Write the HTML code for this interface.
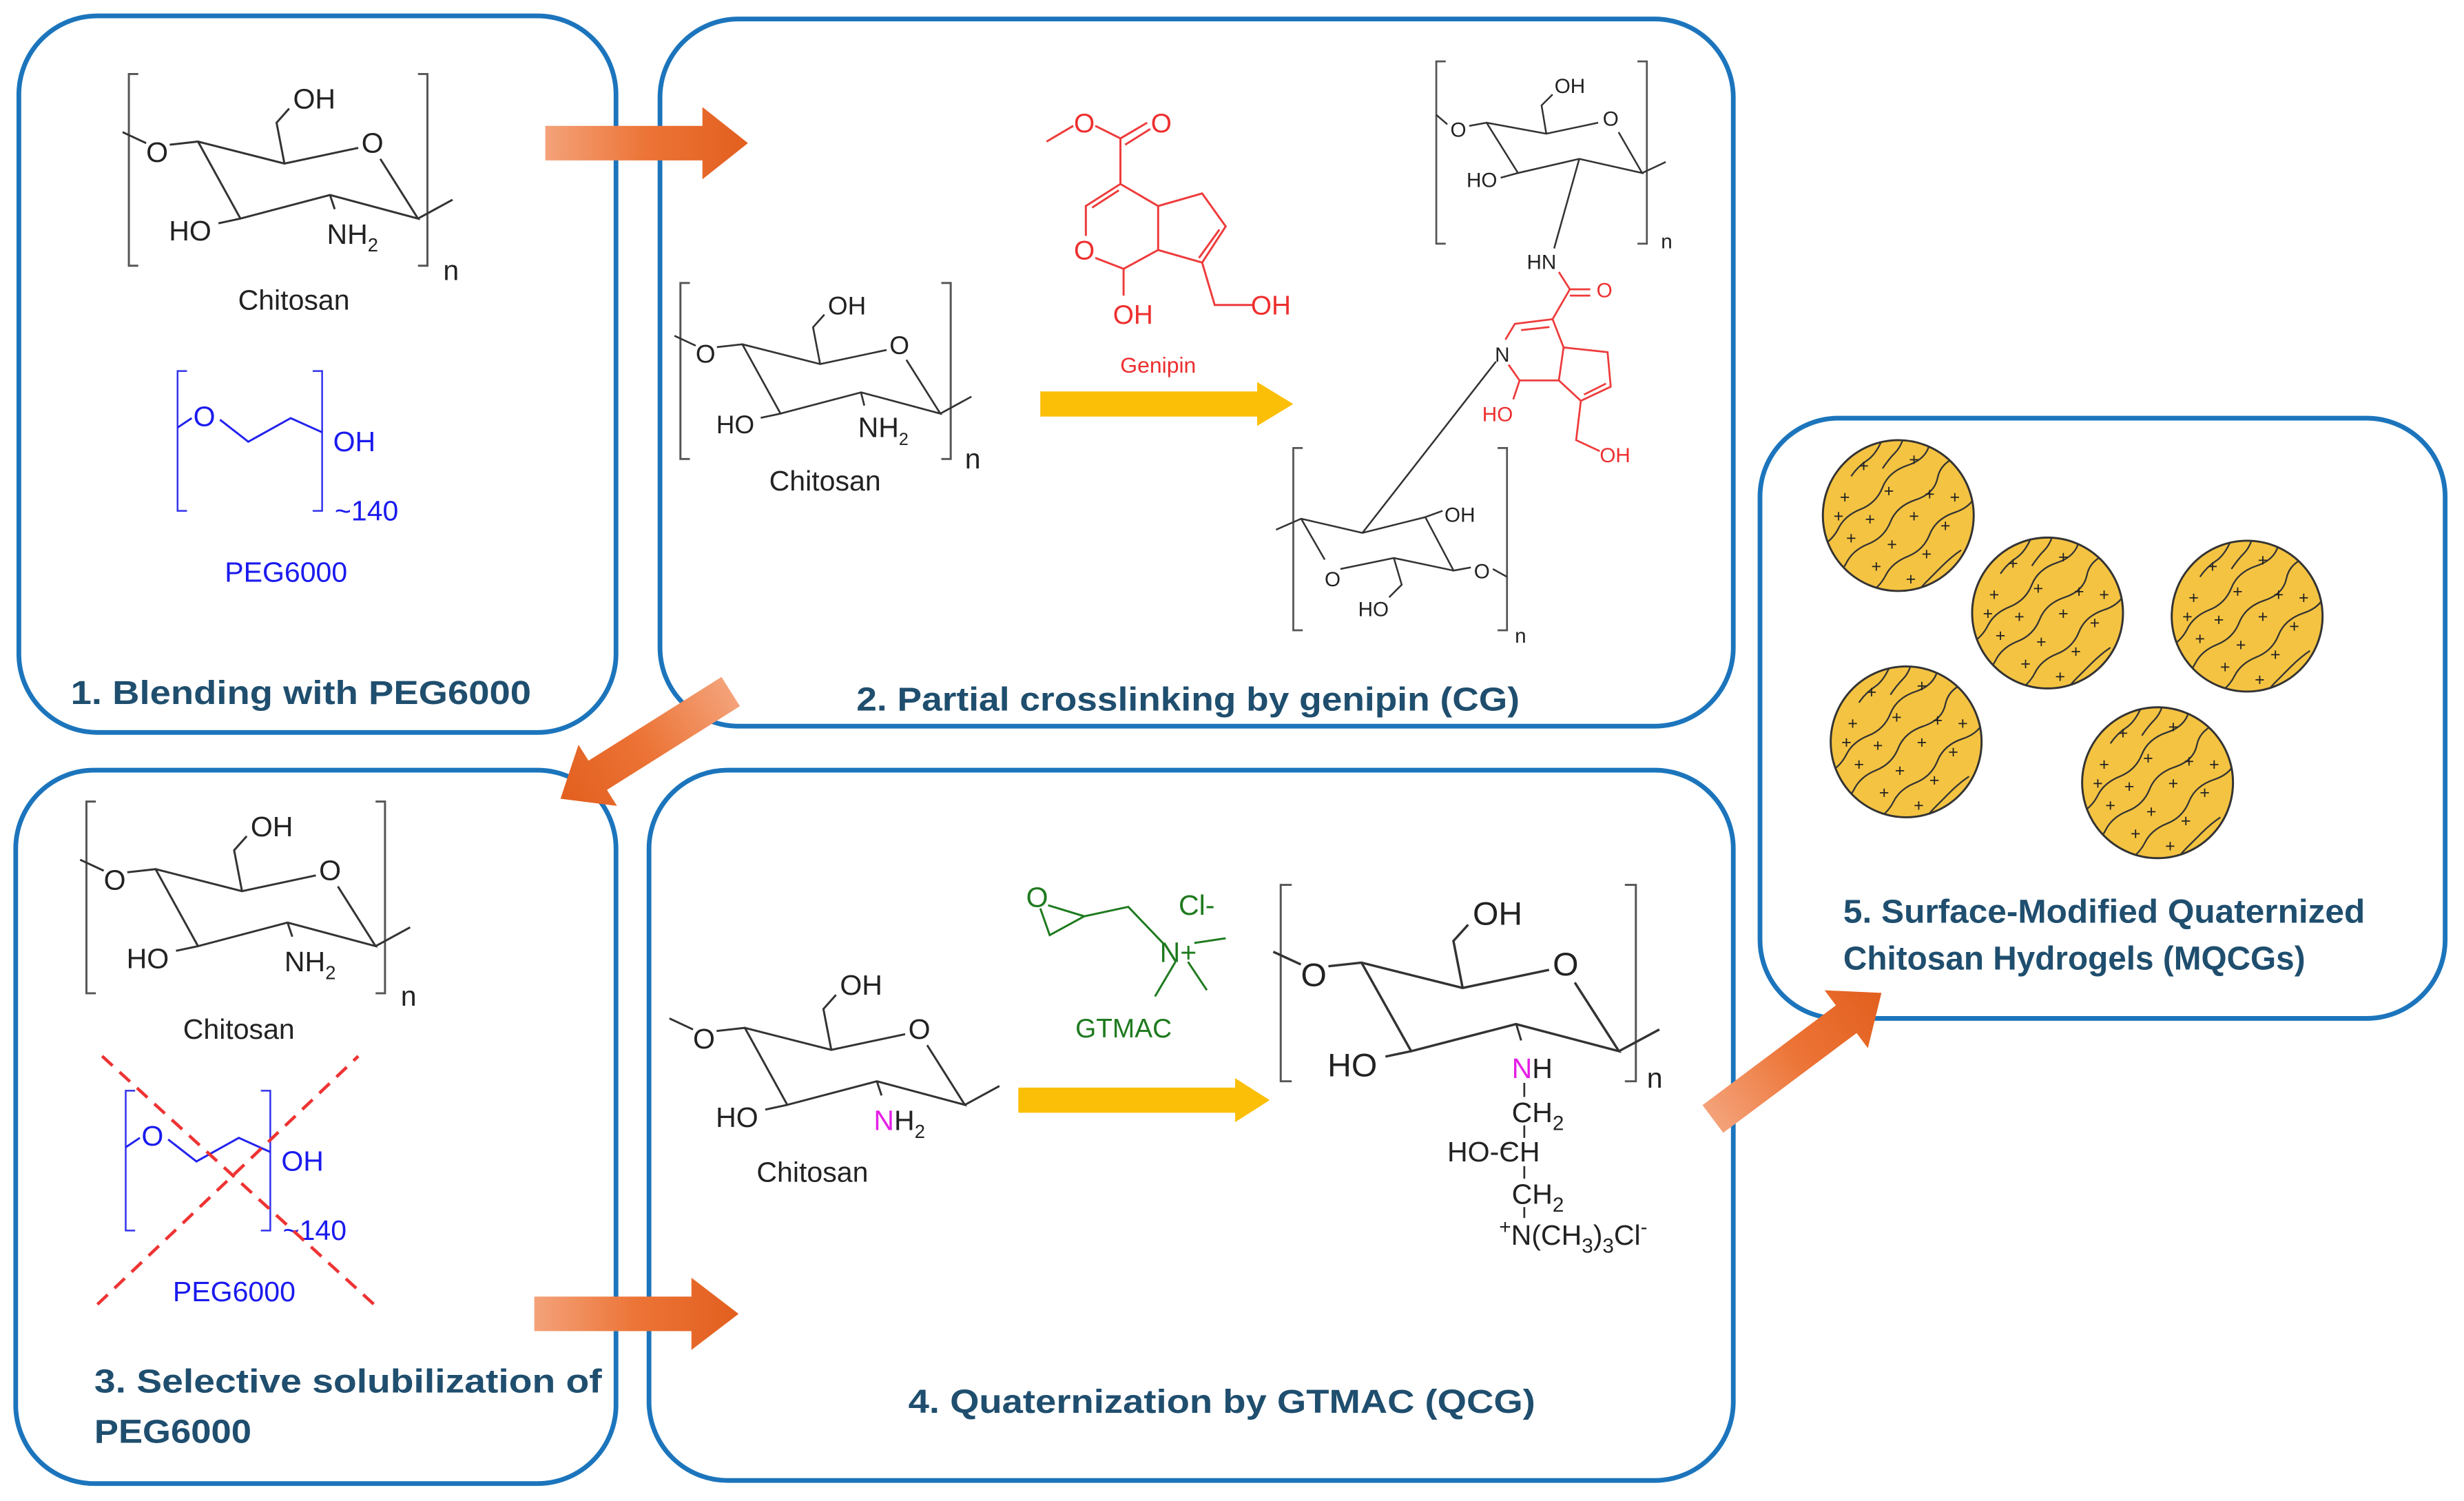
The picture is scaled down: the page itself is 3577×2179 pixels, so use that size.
<!DOCTYPE html>
<html><head><meta charset="utf-8"><style>
html,body{margin:0;padding:0;background:#fff;}
svg{display:block;}
text{font-family:"Liberation Sans",sans-serif;}
.t{font-weight:bold;fill:#1f4e6e;font-size:21px;}
.c{fill:#222;font-size:18px;}
</style></head><body>
<svg width="3577" height="2179" viewBox="0 0 1568 955" xmlns="http://www.w3.org/2000/svg">
<defs>
<linearGradient id="og" x1="0" y1="0" x2="1" y2="0"><stop offset="0" stop-color="#f4a27a"/><stop offset="0.5" stop-color="#ec7436"/><stop offset="1" stop-color="#e25f1f"/></linearGradient>
<g id="core" fill="none" stroke="#333" stroke-width="1.3">
<path d="M78,84 L93,91 M108,92 L126,90 L153,139 L210,124 L266,139 L242,101 M228,94 L181,104 L126,90 M181,104 L176,78 L184,69 M266,139 L288,127 M153,139 L139,142"/>
<text x="100" y="103" class="c" text-anchor="middle" stroke="none" fill="#222">O</text>
<text x="237" y="97" class="c" text-anchor="middle" stroke="none" fill="#222">O</text>
<text x="200" y="69" class="c" text-anchor="middle" stroke="none" fill="#222">OH</text>
<text x="121" y="153" class="c" text-anchor="middle" stroke="none" fill="#222">HO</text>
</g>
<clipPath id="cc"><circle cx="0" cy="0" r="48"/></clipPath>
<g id="gel">
<circle cx="0" cy="0" r="48" fill="#f4c342" stroke="#333" stroke-width="1.3"/>
<g clip-path="url(#cc)" fill="none" stroke="#333" stroke-width="1">
<path d="M-50,20 q8,-4 12,-12 t14,-12 t14,-14 t16,-14 t14,-14"/>
<path d="M-45,42 q8,-4 12,-12 t14,-12 t14,-14 t16,-14 t14,-14 t14,-14"/>
<path d="M-20,50 q8,-4 12,-12 t14,-12 t14,-14 t16,-14 t14,-14"/>
<path d="M-30,-25 q4,-6 10,-10 t10,-14"/>
<path d="M-10,-30 q4,-6 8,-10 t6,-12"/>
<path d="M10,52 q4,-6 8,-10 t10,-10 t12,-10"/>
</g>
<g fill="#222" font-size="11" text-anchor="middle" font-family="Liberation Sans">
<text x="-22" y="-28">+</text><text x="10" y="-32">+</text><text x="-34" y="-8">+</text><text x="-6" y="-12">+</text><text x="20" y="-10">+</text><text x="36" y="-8">+</text>
<text x="-18" y="6">+</text><text x="10" y="4">+</text><text x="30" y="10">+</text><text x="-30" y="18">+</text><text x="-4" y="22">+</text><text x="18" y="28">+</text>
<text x="-14" y="36">+</text><text x="8" y="44">+</text><text x="-38" y="4">+</text>
</g>
</g>
</defs>

<!-- boxes -->
<g fill="none" stroke="#1c75bc" stroke-width="3">
<rect x="12" y="10" width="380" height="456" rx="50"/>
<rect x="420" y="12" width="683" height="450" rx="50"/>
<rect x="10" y="490" width="382" height="454" rx="50"/>
<rect x="413" y="490" width="690" height="452" rx="50"/>
<rect x="1120" y="266" width="436" height="382" rx="50"/>
</g>

<!-- Box 1 -->
<path d="M88,47 H82 V169 H88 M266,47 H272 V169 H266" fill="none" stroke="#555" stroke-width="1.3"/>
<use href="#core"/>
<path d="M210,124 L213,133" stroke="#333" stroke-width="1.3"/>
<text x="208" y="155" class="c">NH<tspan font-size="12" dy="5">2</tspan></text>
<text x="282" y="178" class="c">n</text>
<text x="187" y="197" class="c" text-anchor="middle">Chitosan</text>
<g id="peg">
<path d="M119,236 H113 V325 H119 M199,236 H205 V325 H199" fill="none" stroke="#3333ee" stroke-width="1.1"/>
<path d="M113,272 L122,266 M140,267 L158,281 L185,266 L205,275" fill="none" stroke="#2222ee" stroke-width="1.3"/>
<text x="130" y="271" font-size="18" fill="#1a1aee" text-anchor="middle">O</text>
<text x="212" y="287" font-size="18" fill="#1a1aee">OH</text>
<text x="213" y="331" font-size="18" fill="#1a1aee">~140</text>
<text x="182" y="370" font-size="18" fill="#1a1aee" text-anchor="middle">PEG6000</text>
</g>
<text x="45" y="448" class="t" textLength="293" lengthAdjust="spacingAndGlyphs">1. Blending with PEG6000</text>

<!-- Box 2 -->
<path d="M439,180 H433 V292 H439 M599,180 H605 V292 H599" fill="none" stroke="#555" stroke-width="1.3"/>
<use href="#core" transform="translate(359,138) scale(0.9)"/>
<path d="M548,250 L550,258" stroke="#333" stroke-width="1.2"/>
<text x="546" y="278" class="c" font-size="16">NH<tspan font-size="11" dy="5">2</tspan></text>
<text x="614" y="298" class="c" font-size="16">n</text>
<text x="525" y="312" class="c" text-anchor="middle">Chitosan</text>
<!-- genipin -->
<g fill="none" stroke="#ee3b3b" stroke-width="1.3">
<path d="M666,90 L683,80 M697,80 L713,88 L713,117 L691,131 L691,150 M697,164 L715,171 L737,159 L737,131 L713,117 M737,131 L765,123 L780,144 L765,167 L737,159 M715,171 L715,188 M765,167 L773,194 L798,194"/>
<path d="M713,88 L730,78 M716,92 L732,82 M695,132 L712,121 M776,146 L763,164"/>
</g>
<g fill="#ee2e2e" font-size="17">
<text x="690" y="84" text-anchor="middle">O</text>
<text x="739" y="84" text-anchor="middle">O</text>
<text x="690" y="165" text-anchor="middle">O</text>
<text x="721" y="206" text-anchor="middle">OH</text>
<text x="796" y="200">OH</text>
<text x="737" y="237" text-anchor="middle" font-size="14">Genipin</text>
</g>
<polygon points="662,249 800,249 800,243 823,257 800,271 800,265 662,265" fill="#fbbf08"/>
<!-- product top chitosan -->
<path d="M920,39 H914 V155 H920 M1042,39 H1048 V155 H1042" fill="none" stroke="#555" stroke-width="1.2"/>
<g fill="none" stroke="#333" stroke-width="1.1">
<path d="M914,73 L921,79 M935,80 L946,78 L966,110 L1005,101 L1045,110 L1030,84 M1017,78 L984,85 L946,78 M984,85 L981,67 L988,60 M1045,110 L1060,103 M966,110 L955,113 M1005,101 L989,158"/>
</g>
<g fill="#222" font-size="13">
<text x="928" y="87" text-anchor="middle">O</text>
<text x="1025" y="80" text-anchor="middle">O</text>
<text x="999" y="59" text-anchor="middle">OH</text>
<text x="943" y="119" text-anchor="middle">HO</text>
<text x="1057" y="158">n</text>
<text x="981" y="171" text-anchor="middle">HN</text>
</g>
<g fill="none" stroke="#ee3b3b" stroke-width="1.2">
<path d="M992,173 L999,184 L1012,184 M999,188 L1012,188 M999,184 L988,203 L964,206 L958,216 M960,232 L967,242 L992,242 L995,221 L988,203 M995,221 L1023,224 L1025,246 L1006,255 L992,242 M1006,255 L1003,280 L1018,287 M967,242 L963,254 M968,210 L986,208 M1022,244 L1008,251"/>
</g>
<g fill="#ee2e2e" font-size="13">
<text x="1021" y="189" text-anchor="middle">O</text>
<text x="953" y="268" text-anchor="middle">HO</text>
<text x="1018" y="294">OH</text>
</g>
<text x="956" y="230" text-anchor="middle" font-size="13" fill="#222">N</text>
<path d="M952,230 L867,339" stroke="#333" stroke-width="1.1"/>
<!-- lower chitosan -->
<path d="M829,285 H823 V401 H829 M953,285 H959 V401 H953" fill="none" stroke="#555" stroke-width="1.2"/>
<g fill="none" stroke="#333" stroke-width="1.1">
<path d="M812,337 L828,330 L867,339 L907,329 L925,363 L936,361 M828,330 L843,356 M853,362 L887,355 L925,363 M887,355 L892,372 L884,380 M907,329 L918,325 M950,362 L959,367"/>
</g>
<g fill="#222" font-size="13">
<text x="848" y="373" text-anchor="middle">O</text>
<text x="943" y="368" text-anchor="middle">O</text>
<text x="929" y="332" text-anchor="middle">OH</text>
<text x="874" y="392" text-anchor="middle">HO</text>
<text x="964" y="409">n</text>
</g>
<text x="545" y="452" class="t" textLength="422" lengthAdjust="spacingAndGlyphs">2. Partial crosslinking by genipin (CG)</text>

<!-- Box 3 -->
<path d="M61,510 H55 V632 H61 M239,510 H245 V632 H239" fill="none" stroke="#555" stroke-width="1.3"/>
<use href="#core" transform="translate(-27,463)"/>
<path d="M183,587 L186,596" stroke="#333" stroke-width="1.3"/>
<text x="181" y="618" class="c">NH<tspan font-size="12" dy="5">2</tspan></text>
<text x="255" y="640" class="c">n</text>
<text x="152" y="661" class="c" text-anchor="middle">Chitosan</text>
<use href="#peg" transform="translate(-33,458)"/>
<path d="M62,830 L228,672 M65,672 L238,830" stroke="#ee3333" stroke-width="2" stroke-dasharray="9,6"/>
<text x="60" y="886" class="t" textLength="323" lengthAdjust="spacingAndGlyphs">3. Selective solubilization  of</text>
<text x="60" y="918" class="t" textLength="100" lengthAdjust="spacingAndGlyphs">PEG6000</text>

<!-- Box 4 -->
<use href="#core" transform="translate(348,564)"/>
<path d="M558,688 L561,697" stroke="#333" stroke-width="1.3"/>
<text x="556" y="719" class="c"><tspan fill="#e61ee6">N</tspan>H<tspan font-size="12" dy="5">2</tspan></text>
<text x="517" y="752" class="c" text-anchor="middle">Chitosan</text>
<!-- GTMAC -->
<g fill="none" stroke="#1e7a1e" stroke-width="1.3">
<path d="M662,578 L668,595 L690,583 L667,576 M690,583 L718,577 L740,600 M760,600 L780,597 M748,612 L735,634 M756,612 L768,630"/>
</g>
<g fill="#1e7a1e" font-size="18">
<text x="660" y="577" text-anchor="middle">O</text>
<text x="738" y="612">N+</text>
<text x="750" y="582">Cl-</text>
<text x="715" y="660" text-anchor="middle" font-size="17">GTMAC</text>
</g>
<polygon points="648,692 786,692 786,686 808,700 786,714 786,708 648,708" fill="#fbbf08"/>
<!-- product -->
<path d="M822,563 H815 V688 H822 M1034,563 H1041 V688 H1034" fill="none" stroke="#555" stroke-width="1.3"/>
<use href="#core" transform="translate(719,509) scale(1.17,1.15)"/>
<path d="M965,652 L968,662" stroke="#333" stroke-width="1.3"/>
<text x="962" y="686" class="c" font-size="19"><tspan fill="#e61ee6">N</tspan>H</text>
<text x="1048" y="692" class="c" font-size="19">n</text>
<path d="M970,689 V698 M970,716 V724 M970,742 V750 M970,768 V775 M955,731 H962" stroke="#333" stroke-width="1.2"/>
<text x="962" y="714" class="c" font-size="19">CH<tspan font-size="13" dy="5">2</tspan></text>
<text x="921" y="739" class="c" font-size="19">HO-CH</text>
<text x="962" y="766" class="c" font-size="19">CH<tspan font-size="13" dy="5">2</tspan></text>
<text x="954" y="792" class="c" font-size="19"><tspan font-size="13" dy="-7">+</tspan><tspan dy="7">N(CH</tspan><tspan font-size="13" dy="5">3</tspan><tspan dy="-5">)</tspan><tspan font-size="13" dy="5">3</tspan><tspan dy="-5">Cl</tspan><tspan font-size="13" dy="-7">-</tspan></text>
<text x="578" y="899" class="t" textLength="399" lengthAdjust="spacingAndGlyphs">4. Quaternization by GTMAC (QCG)</text>

<!-- Box 5 -->
<use href="#gel" transform="translate(1208,328)"/>
<use href="#gel" transform="translate(1303,390)"/>
<use href="#gel" transform="translate(1430,392)"/>
<use href="#gel" transform="translate(1213,472)"/>
<use href="#gel" transform="translate(1373,498)"/>
<text x="1173" y="587" class="t" font-size="19" textLength="332" lengthAdjust="spacingAndGlyphs">5. Surface-Modified Quaternized</text>
<text x="1173" y="617" class="t" font-size="19" textLength="294" lengthAdjust="spacingAndGlyphs">Chitosan Hydrogels (MQCGs)</text>

<!-- orange arrows -->
<polygon points="347,80 447,80 447,68 476,91 447,114 447,102 347,102" fill="url(#og)"/>
<polygon points="340,825 440,825 440,813 470,836 440,859 440,847 340,847" fill="url(#og)"/>
<polygon points="0,-11 100,-11 100,-23 128,0 100,23 100,11 0,11" fill="url(#og)" transform="translate(465,440) rotate(147.8)"/>
<polygon points="0,-11 106,-11 106,-23 134,0 106,23 106,11 0,11" fill="url(#og)" transform="translate(1090,712) rotate(-36.8)"/>
</svg>
</body></html>
